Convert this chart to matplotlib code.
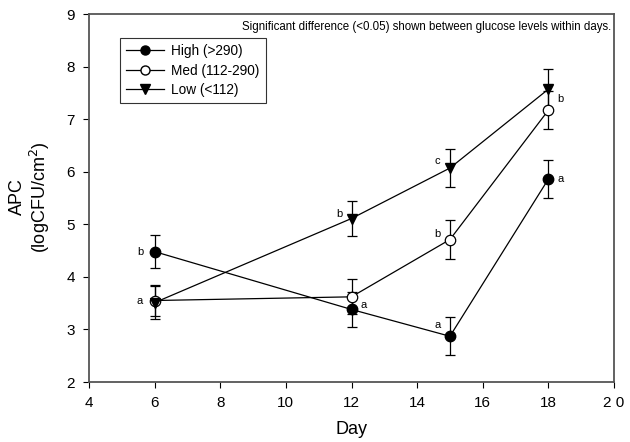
import matplotlib
matplotlib.use("Agg")
import matplotlib.pyplot as plt
from matplotlib.lines import Line2D

plt.rcParams['font.family'] = ['Liberation Sans', 'DejaVu Sans']

days = [6, 12, 15, 18]
high = [4.48, 3.38, 2.87, 5.86]
high_err = [0.31, 0.33, 0.36, 0.36]
med = [3.55, 3.62, 4.71, 7.17]
med_err = [0.30, 0.33, 0.37, 0.36]
low = [3.51, 5.11, 6.07, 7.57]
low_err = [0.31, 0.33, 0.37, 0.38]

labels = ["High (>290)", "Med (112-290)", "Low (<112)"]
high_letters = ["b", "a", "a", "a"]
med_letters = ["a", None, "b", "b"]
low_letters = [None, "b", "c", None]

xticks = [4, 6, 8, 10, 12, 14, 16, 18, 20]
xticklabels = ["4", "6", "8", "10", "12", "14", "16", "18", "2 0"]
yticks = [2, 3, 4, 5, 6, 7, 8, 9]

fig = plt.figure(figsize=(6.3, 4.42), dpi=100)
ax = fig.add_axes([89/630, 1-382/442, (614-89)/630, (382-14)/442])

MS = 7.5
common = dict(color='black', lw=0.9, capsize=3.5, capthick=0.9, elinewidth=0.9, ms=MS)
ax.errorbar(days, high, yerr=high_err, fmt='-o', mfc='black', mec='black', **common)
ax.errorbar(days, med, yerr=med_err, fmt='-o', mfc='white', mec='black', mew=0.9, **common)
ax.errorbar(days, low, yerr=low_err, fmt='-v', mfc='black', mec='black', **common)

def put(x, y, s, dx, dy):
    if s:
        ax.annotate(s, (x, y), xytext=(dx, dy), textcoords='offset points',
                    ha='center', va='center', fontsize=8)

# letters
put(days[0], high[0], high_letters[0], -10, 0)
put(days[1], high[1], high_letters[1], 9, 3)
put(days[2], high[2], high_letters[2], -9, 8)
put(days[3], high[3], high_letters[3], 9, 0)
put(days[0], med[0], med_letters[0], -11, 0)
put(days[2], med[2], med_letters[2], -9, 4)
put(days[3], med[3], med_letters[3], 9, 8)
put(days[1], low[1], low_letters[1], -9, 3)
put(days[2], low[2], low_letters[2], -9, 5)

ax.set_xlim(4, 20)
ax.set_ylim(2, 9)
ax.set_xticks(xticks)
ax.set_xticklabels(xticklabels)
ax.set_yticks(yticks)
ax.tick_params(direction='out', length=4, width=0.8, labelsize=11, colors='black', pad=6)
for s in ax.spines.values():
    s.set_color('#555555')
    s.set_linewidth(1.3)

ax.set_xlabel("Day", fontsize=13, labelpad=8)
fig.text(17/630, 1-197/442, "APC", rotation=90, ha='center', va='center', fontsize=13)
fig.text(40/630, 1-197/442, "(logCFU/cm$^2$)", rotation=90, ha='center', va='center', fontsize=13)

ax.text(0.995, 0.965, "Significant difference (<0.05) shown between glucose levels within days.",
        transform=ax.transAxes, ha='right', va='center', fontsize=8.3)

LMS = 6.5
handles = [
    Line2D([], [], color='black', lw=0.9, marker='o', mfc='black', mec='black', ms=LMS),
    Line2D([], [], color='black', lw=0.9, marker='o', mfc='white', mec='black', ms=LMS),
    Line2D([], [], color='black', lw=0.9, marker='v', mfc='black', mec='black', ms=LMS),
]
leg = ax.legend(handles, labels, loc='upper left', bbox_to_anchor=(31/525, 1-24/368),
                frameon=True, fancybox=False, edgecolor='black', fontsize=9.8,
                handlelength=2.8, borderpad=0.45, labelspacing=0.4, handletextpad=0.5,
                borderaxespad=0)
leg.get_frame().set_linewidth(0.8)

fig.savefig("out.png", dpi=100)
